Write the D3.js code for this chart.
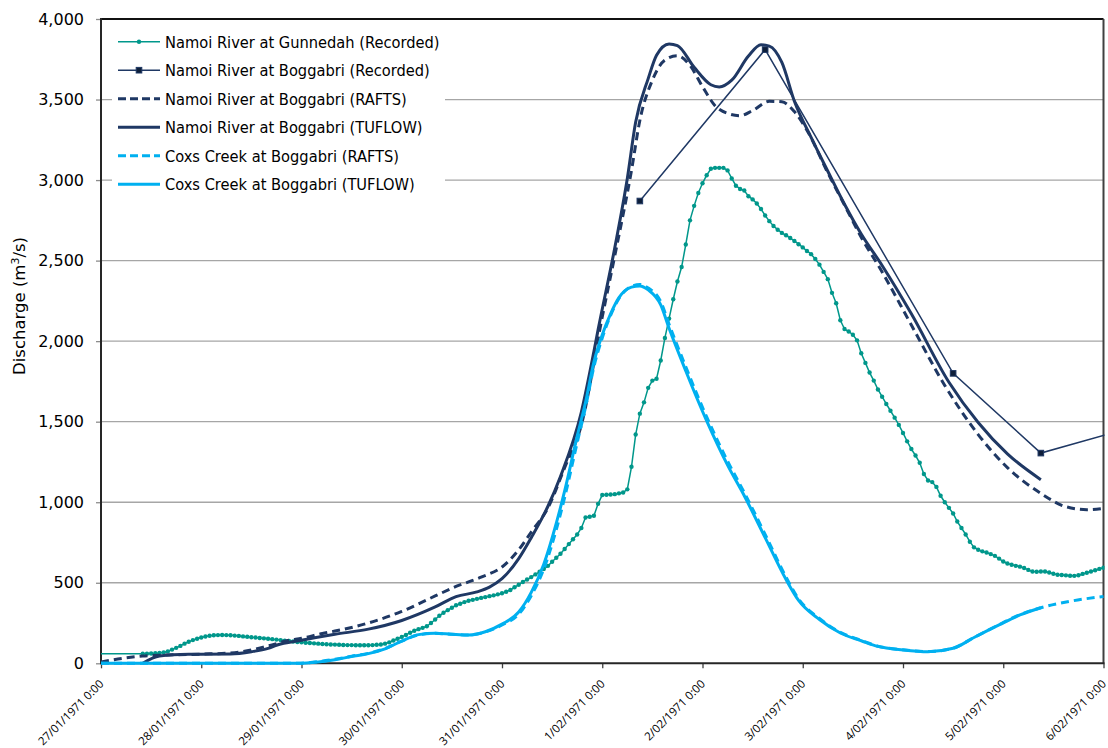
<!DOCTYPE html>
<html><head><meta charset="utf-8">
<script src="https://cdn.jsdelivr.net/npm/d3@7"></script>
<style>body{margin:0;background:#fff}svg{display:block}</style>
</head><body><svg id="c" width="1108" height="748"></svg>
<script>
// ---- data (time in hours after 27/01/1971 0:00) ----
const startDate = new Date(1971, 0, 27, 0, 0);
const dayCount = 10;
const yTicks = [0, 500, 1000, 1500, 2000, 2500, 3000, 3500, 4000];

const seriesNames = [
  "Namoi River at Gunnedah (Recorded)",
  "Namoi River at Boggabri (Recorded)",
  "Namoi River at Boggabri (RAFTS)",
  "Namoi River at Boggabri (TUFLOW)",
  "Coxs Creek at Boggabri (RAFTS)",
  "Coxs Creek at Boggabri (TUFLOW)"
];

// Gunnedah recorded: first reading at hour 0, then hourly readings from hour 10
const gunnedahFirst = [0, 60];
const gunnedahStartHour = 10;
const gunnedahHourly = [
  60,60,61,62,64,68,74,85,96,108,
  122,134,144,152,160,166,171,174,175,176,
  175,174,172,170,167,165,162,160,157,155,
  152,150,147,144,141,138,135,132,130,128,
  126,124,122,120,118,117,116,115,114,113,
  113,112,112,112,112,113,115,117,122,130,
  142,152,164,176,190,202,212,220,230,250,
  272,295,314,330,345,360,370,380,388,394,
  400,406,411,417,422,428,435,444,455,472,
  488,505,520,535,552,568,585,605,630,655,
  680,710,740,770,800,840,905,910,916,990,
  1045,1046,1048,1050,1055,1060,1080,1220,1420,1550,
  1620,1710,1755,1767,1880,2020,2140,2260,2370,2460,
  2600,2750,2840,2920,2980,3030,3070,3076,3076,3076,
  3060,3010,2965,2945,2935,2900,2880,2855,2820,2780,
  2745,2715,2692,2672,2657,2640,2622,2602,2582,2560,
  2540,2510,2475,2430,2385,2300,2235,2130,2075,2060,
  2040,2005,1925,1865,1805,1755,1700,1655,1610,1568,
  1525,1480,1430,1378,1330,1290,1245,1175,1135,1125,
  1095,1040,1000,965,930,880,840,800,755,720,
  705,695,688,678,667,650,632,620,612,605,
  600,592,580,570,568,570,570,564,556,550,
  548,546,544,543,547,555,562,570,578,586,
  593
];

const boggabriRecorded = [[129, 2870], [159, 3810], [204, 1800], [225, 1305], [249, 1480]];

const boggabriRafts = [[0,8],[5,30],[10,45],[16,52],[24,57],[32,66],[40,108],[45,143],[48,155],[53,185],[56,200],[64,250],[72,322],[80,418],[85,477],[91,535],[96,598],[100,705],[103,815],[107,965],[111,1215],[115,1480],[120,2150],[123,2530],[127,3060],[129,3370],[132,3620],[135,3745],[138,3772],[141,3712],[144,3580],[147,3462],[150,3414],[153,3400],[156,3432],[160,3489],[163,3486],[166,3425],[169,3310],[174,3045],[178,2845],[182,2645],[187,2430],[194,2100],[202,1725],[210,1420],[217,1215],[225,1055],[231,972],[236,954],[240,962]];

const boggabriTuflow = [[10,0],[14,45],[21,56],[31,58],[36,72],[40,93],[42,112],[48,143],[56,180],[64,212],[72,266],[80,350],[85,414],[90,443],[93,473],[96,525],[100,650],[103,780],[107,975],[110,1160],[115,1560],[118,1935],[119,2070],[123,2580],[126,3010],[128,3360],[131,3630],[133,3775],[136,3845],[138,3835],[142,3700],[146,3592],[148,3578],[151,3620],[155,3770],[158,3840],[160,3832],[163,3730],[166,3490],[170,3265],[174,3055],[178,2850],[182,2665],[187,2470],[194,2170],[203,1745],[210,1495],[217,1300],[225,1140]];

const coxsRafts = [[0,0],[47,0],[52,10],[56,25],[60,44],[64,62],[68,92],[72,138],[76,176],[80,186],[84,180],[88,176],[92,195],[96,238],[100,305],[103,420],[106,585],[109,830],[111,1030],[114,1370],[116,1590],[118,1840],[120,2020],[122,2160],[124,2265],[127,2340],[129,2352],[131,2330],[134,2245],[136,2105],[140,1840],[145,1530],[150,1255],[154,1060],[159,800],[164,535],[167,400],[172,278],[177,192],[182,142],[186,106],[192,84],[198,73],[204,94],[209,160],[215,240],[220,302],[225,345],[232,385],[240,415]];

const coxsTuflow = [[0,0],[47,0],[52,8],[56,22],[60,42],[64,60],[68,90],[72,138],[76,178],[80,187],[84,180],[88,175],[92,196],[96,243],[100,318],[103,440],[106,615],[109,870],[111,1070],[114,1410],[116,1620],[118,1870],[120,2040],[122,2170],[124,2270],[127,2335],[129,2343],[131,2318],[134,2225],[136,2080],[140,1815],[145,1505],[150,1230],[154,1040],[159,780],[164,520],[167,390],[172,272],[177,188],[182,140],[186,105],[192,83],[198,72],[204,93],[209,160],[215,238],[220,300],[225,345]];

// ---- drawing ----
const TEAL = "#00978b", NAVY = "#1f3864", LBLUE = "#00b0f0";
const svg = d3.select("#c");
const L = 101, R = 1103.5, T = 19, B = 663.3;
const toDate = h => new Date(startDate.getTime() + h * 3600000);
const x = d3.scaleTime().domain([startDate, d3.timeDay.offset(startDate, dayCount)]).range([L, R]);
const y = d3.scaleLinear().domain([0, 4000]).range([B, T]);

svg.append("rect").attr("width", 1108).attr("height", 748).attr("fill", "#fff");

// gridlines
svg.append("g").selectAll("line").data(yTicks.filter(v => v > 0 && v < 4000)).join("line")
  .attr("x1", L).attr("x2", R).attr("y1", d => y(d)).attr("y2", d => y(d))
  .attr("stroke", "#a6a6a6").attr("stroke-width", 1.3);

// y axis
const yAxis = svg.append("g").attr("transform", `translate(${L},0)`)
  .call(d3.axisLeft(y).tickValues(yTicks).tickSize(5).tickPadding(12).tickFormat(d3.format(",")));
yAxis.select(".domain").remove();
yAxis.selectAll(".tick line").attr("stroke", "#8c8c8c").attr("stroke-width", 1.3);
yAxis.selectAll("text").attr("font-family", "DejaVu Sans, sans-serif").attr("font-size", 16).attr("fill", "#000");

// x axis
const fmt = d3.timeFormat("%-d/%m/%Y %-H:%M");
const xAxis = svg.append("g").attr("transform", `translate(0,${B})`)
  .call(d3.axisBottom(x).ticks(d3.timeDay.every(1)).tickSize(5).tickFormat(fmt));
xAxis.select(".domain").remove();
xAxis.selectAll(".tick line").attr("stroke", "#404040").attr("stroke-width", 1.3);
xAxis.selectAll("text")
  .attr("font-family", "Open Sans, DejaVu Sans, sans-serif").attr("font-size", 11.5).attr("fill", "#000")
  .attr("text-anchor", "end").attr("dy", "0.35em")
  .attr("transform", "translate(0,18.5) rotate(-45)").attr("x", 0).attr("y", 0);

// frame
svg.append("line").attr("x1", L).attr("x2", R).attr("y1", T).attr("y2", T).attr("stroke", "#111").attr("stroke-width", 2);
svg.append("line").attr("x1", R).attr("x2", R).attr("y1", T).attr("y2", B).attr("stroke", "#404040").attr("stroke-width", 2);
svg.append("line").attr("x1", L).attr("x2", L).attr("y1", T - 1).attr("y2", B + 1).attr("stroke", "#262626").attr("stroke-width", 2);
svg.append("line").attr("x1", L).attr("x2", R + 1).attr("y1", B).attr("y2", B).attr("stroke", "#262626").attr("stroke-width", 2);

// y title
svg.append("text").attr("transform", `translate(25,306) rotate(-90)`)
  .attr("text-anchor", "middle").attr("font-family", "DejaVu Sans, sans-serif").attr("font-size", 16.5)
  .attr("fill", "#000")
  .call(t => { t.append("tspan").text("Discharge (m"); t.append("tspan").attr("baseline-shift", "super").attr("font-size", 11).text("3"); t.append("tspan").text("/s)"); });

// clip
svg.append("defs").append("clipPath").attr("id", "pc").append("rect")
  .attr("x", L).attr("y", 0).attr("width", R - L + 1).attr("height", B + 4);
const plot = svg.append("g").attr("clip-path", "url(#pc)");

const lineC = d3.line().x(d => x(toDate(d[0]))).y(d => y(d[1])).curve(d3.curveMonotoneX);
const lineS = d3.line().x(d => x(toDate(d[0]))).y(d => y(d[1]));

const gunnedah = [gunnedahFirst].concat(gunnedahHourly.map((v, i) => [gunnedahStartHour + i, v]));

// series 1: Gunnedah recorded
plot.append("path").attr("d", lineS(gunnedah)).attr("fill", "none").attr("stroke", TEAL).attr("stroke-width", 1.5);
plot.append("g").selectAll("circle").data(gunnedah.slice(1)).join("circle")
  .attr("cx", d => x(toDate(d[0]))).attr("cy", d => y(d[1])).attr("r", 2.2).attr("fill", TEAL);

// series 2: Boggabri recorded
plot.append("path").attr("d", lineS(boggabriRecorded)).attr("fill", "none").attr("stroke", NAVY).attr("stroke-width", 1.5);
plot.append("g").selectAll("rect").data(boggabriRecorded).join("rect")
  .attr("x", d => x(toDate(d[0])) - 2.8).attr("y", d => y(d[1]) - 2.8).attr("width", 5.6).attr("height", 5.6)
  .attr("fill", "#0d1e3a").attr("stroke", NAVY).attr("stroke-width", 1);

// series 3: Boggabri RAFTS
plot.append("path").attr("d", lineC(boggabriRafts)).attr("fill", "none").attr("stroke", NAVY).attr("stroke-width", 3).attr("stroke-dasharray", "8,5");
// series 4: Boggabri TUFLOW
plot.append("path").attr("d", lineC(boggabriTuflow)).attr("fill", "none").attr("stroke", NAVY).attr("stroke-width", 3);
// series 5: Coxs RAFTS
plot.append("path").attr("d", lineC(coxsRafts)).attr("fill", "none").attr("stroke", LBLUE).attr("stroke-width", 3).attr("stroke-dasharray", "8,5");
// series 6: Coxs TUFLOW
plot.append("path").attr("d", lineC(coxsTuflow)).attr("fill", "none").attr("stroke", LBLUE).attr("stroke-width", 3);

// legend
const lg = svg.append("g");
lg.append("rect").attr("x", 112).attr("y", 24).attr("width", 333).attr("height", 173).attr("fill", "#fff");
const styles = [
  {c: TEAL, w: 1.5, dash: null, m: "circle"},
  {c: NAVY, w: 1.5, dash: null, m: "square"},
  {c: NAVY, w: 3, dash: "8,4", m: null},
  {c: NAVY, w: 3, dash: null, m: null},
  {c: LBLUE, w: 3, dash: "8,4", m: null},
  {c: LBLUE, w: 3, dash: null, m: null}
];
seriesNames.forEach((name, i) => {
  const yy = 41.7 + i * 28.5;
  const s = styles[i];
  lg.append("line").attr("x1", 118).attr("x2", 160).attr("y1", yy).attr("y2", yy)
    .attr("stroke", s.c).attr("stroke-width", s.w).attr("stroke-dasharray", s.dash);
  if (s.m === "circle") lg.append("circle").attr("cx", 139).attr("cy", yy).attr("r", 2.2).attr("fill", s.c);
  if (s.m === "square") lg.append("rect").attr("x", 136.2).attr("y", yy - 2.8).attr("width", 5.6).attr("height", 5.6).attr("fill", "#0d1e3a").attr("stroke", s.c);
  lg.append("text").attr("x", 165).attr("y", yy).attr("dy", "0.36em")
    .attr("font-family", "DejaVu Sans Condensed, DejaVu Sans, sans-serif").attr("font-stretch", "condensed")
    .attr("font-size", 16.3).attr("fill", "#000").text(name);
});
</script>
</body></html>
